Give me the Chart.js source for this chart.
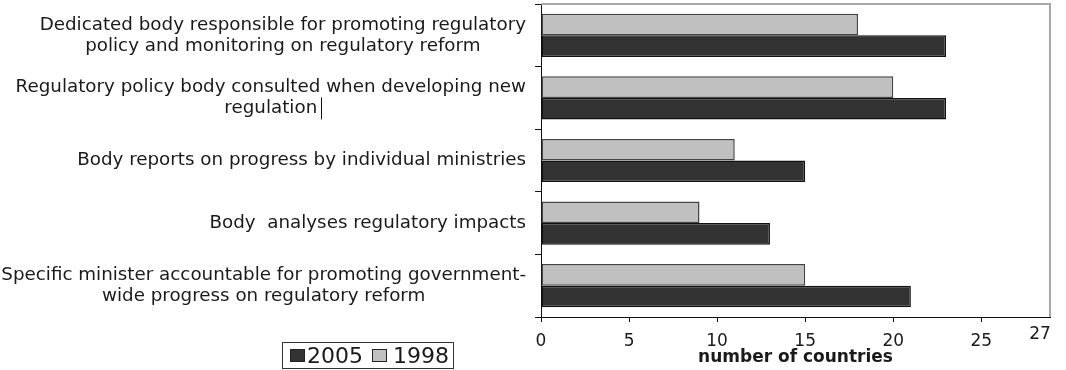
<!DOCTYPE html>
<html><head><meta charset="utf-8">
<script src="https://cdn.jsdelivr.net/npm/chart.js@4.4.1/dist/chart.umd.min.js"></script>
<style>
html,body{margin:0;padding:0;background:#fff;}
#wrap{position:relative;width:1066px;height:370px;overflow:hidden;}
#legend{position:absolute;left:282px;top:342px;border:1px solid #333;
 font-family:"DejaVu Sans",sans-serif;font-size:22px;line-height:25px;color:#1a1a1a;display:flex;align-items:center;padding-left:7px;box-sizing:border-box;width:172px;height:27px;}
#legend .sw{display:inline-block;width:13px;height:11px;border:1px solid #222;margin-right:2px;}
#legend .it{display:flex;align-items:center;margin-right:9px;}
#legend .it + .it .sw{margin-right:6px;}
</style></head>
<body><div id="wrap"><canvas id="c" width="1066" height="370"></canvas><div id="legend"></div></div>
<script>
const categories = [
  ["Dedicated body responsible for promoting regulatory", "policy and monitoring on regulatory reform"],
  ["Regulatory policy body consulted when developing new", "regulation"],
  ["Body reports on progress by individual ministries"],
  ["Body  analyses regulatory impacts"],
  ["Specific minister accountable for promoting government-", "wide progress on regulatory reform"]
];
const values1998 = [18, 20, 11, 9, 15];
const values2005 = [23, 23, 15, 13, 21];
const xTickValues = [0, 5, 10, 15, 20, 25];
const extraTickLabel = "27";
const axisTitle = "number of countries";
const legendNames = ["2005", "1998"];

const COL2005 = '#333333', COL1998 = '#c0c0c0';
const FONT = '"DejaVu Sans", sans-serif';

const labelPlugin = {
  id: 'catLabels',
  afterDraw(chart) {
    const {ctx, scales: {y}, chartArea} = chart;
    ctx.save();
    // plot border top & right
    ctx.strokeStyle = '#a8a8a8';
    ctx.lineWidth = 2;
    ctx.beginPath();
    ctx.moveTo(chartArea.left, chartArea.top);
    ctx.lineTo(chartArea.right, chartArea.top);
    ctx.lineTo(chartArea.right, chartArea.bottom);
    ctx.stroke();
    // category labels: block right-aligned, lines centered
    ctx.font = '18.3px ' + FONT;
    ctx.fillStyle = '#1a1a1a';
    ctx.textBaseline = 'middle';
    ctx.textAlign = 'center';
    const right = chartArea.left - 15;
    const lh = 21;
    categories.forEach((lines, i) => {
      const cy = y.getPixelForValue(i);
      const w = Math.max(...lines.map(l => ctx.measureText(l).width));
      const cx = right - w / 2;
      lines.forEach((l, j) => {
        const ly = cy + (j - (lines.length - 1) / 2) * lh;
        ctx.fillText(l, cx, ly);
        if (i === 1 && j === 1) {
          // text-cursor mark after "regulation" as in the source image
          const ex = Math.round(cx + ctx.measureText(l).width / 2 + 4) + 0.5;
          ctx.save();
          ctx.strokeStyle = '#111'; ctx.lineWidth = 1;
          ctx.beginPath(); ctx.moveTo(ex, ly - 11); ctx.lineTo(ex, ly + 11); ctx.stroke();
          ctx.restore();
        }
      });
    });
    // extra "27" label at right end of axis
    ctx.font = '17px ' + FONT;
    ctx.fillText(extraTickLabel, chartArea.right - 10, chartArea.bottom + 18);
    ctx.restore();
  }
};

new Chart(document.getElementById('c'), {
  type: 'bar',
  data: {
    labels: categories,
    datasets: [
      {label: '1998', data: values1998, backgroundColor: COL1998, borderColor: '#444', borderWidth: 1.5, borderSkipped: false,
       categoryPercentage: 0.69, barPercentage: 1},
      {label: '2005', data: values2005, backgroundColor: COL2005, borderColor: '#111', borderWidth: 1.5, borderSkipped: false,
       categoryPercentage: 0.69, barPercentage: 1}
    ]
  },
  options: {
    indexAxis: 'y',
    responsive: false,
    animation: false,
    layout: {padding: {top: 4, right: 16, left: 0, bottom: 0}},
    plugins: {legend: {display: false}, tooltip: {enabled: false}},
    scales: {
      x: {
        min: 0, max: 28.9,
        afterBuildTicks(s) { s.ticks = xTickValues.map(v => ({value: v})); },
        afterFit(s) { s.height = 53; },
        border: {display: true, color: '#111', width: 1},
        grid: {drawOnChartArea: false, drawTicks: true, tickLength: 5, color: '#111'},
        ticks: {color: '#1a1a1a', font: {family: FONT, size: 17}, padding: 9, maxRotation: 0},
        title: {display: true, text: axisTitle, color: '#1a1a1a', font: {family: FONT, size: 17, weight: 'bold'}, padding: {top: 0, bottom: 2}}
      },
      y: {
        afterFit(s) { s.width = 541; },
        border: {display: true, color: '#111', width: 1},
        grid: {drawOnChartArea: false, drawTicks: true, tickLength: 6, color: '#111', offset: true},
        ticks: {display: false}
      }
    }
  },
  plugins: [labelPlugin]
});

// legend (HTML)
const lg = document.getElementById('legend');
const legendColors = {"2005": COL2005, "1998": COL1998};
legendNames.forEach(n => {
  const it = document.createElement('span'); it.className = 'it';
  const sw = document.createElement('span'); sw.className = 'sw'; sw.style.background = legendColors[n];
  const tx = document.createElement('span'); tx.textContent = n;
  it.appendChild(sw); it.appendChild(tx); lg.appendChild(it);
});
</script>
</body></html>
